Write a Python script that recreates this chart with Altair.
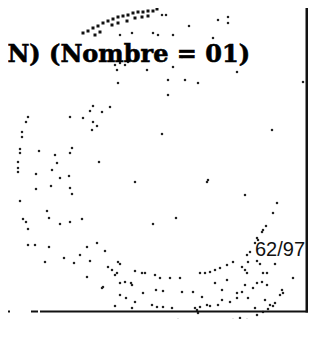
import altair as alt
import pandas as pd

# dot positions (page pixel coordinates)
arc_x = [83, 88, 93, 98, 103, 108, 113, 118, 123, 128, 133, 138, 143, 148, 153, 157,
         95, 100, 112, 118, 127, 135, 142, 148]
arc_y = [33, 31, 28, 26, 23, 21, 19, 17, 16, 15, 13, 12, 12, 11, 11, 9,
         35, 32, 25, 23, 21, 18, 17, 16]

dot_x = [162, 166, 218, 228, 228, 189, 120, 132, 153, 158, 173, 213, 182, 115, 120, 125, 128, 117,
         147, 173, 237, 168, 185, 198, 118, 168, 303, 93, 90, 102, 110, 28, 70, 83,
         26, 93, 97, 92, 22, 22, 162, 272, 20, 20, 39, 55, 70, 72, 18, 99, 57, 18, 18, 52,
         36, 69, 60, 135, 207, 208, 36, 51, 70, 72, 245, 20, 277, 47, 273, 23, 26, 49, 82,
         60, 70, 153, 176, 28, 266, 263, 262, 257,
         28, 35, 49, 87, 97, 105, 45, 64, 74, 80, 90, 118, 120, 108, 112, 87, 115, 117, 135,
         142, 145, 155, 160, 170, 180, 120, 125, 131, 132, 102, 103, 156, 163, 182, 193, 143,
         120, 126, 202, 135, 115, 132, 152, 157, 163, 172, 195, 200, 207, 210, 218, 222, 230,
         237, 248, 255, 265, 270, 275, 280, 283, 282, 200, 205, 210, 215, 220, 227, 233, 242,
         245, 247, 248, 257, 260, 263, 267, 275, 293, 215, 227, 222, 237, 242, 245, 257, 262,
         267, 253, 247, 250, 255, 258,
         123, 137, 147, 152, 160, 167, 173, 178, 190, 200, 207, 217, 223, 230, 233, 240, 247,
         257, 263, 268, 273, 143, 153, 160, 167, 180, 187, 197, 213, 223, 197, 198]
dot_y = [15, 15, 20, 17, 23, 26, 35, 33, 33, 35, 35, 38, 57, 65, 63, 65, 62, 70,
         70, 67, 72, 80, 80, 83, 83, 95, 82, 106, 111, 112, 107, 117, 117, 118,
         122, 122, 126, 130, 132, 137, 134, 130, 149, 153, 151, 155, 153, 148, 162, 162, 163, 168, 172, 170,
         174, 176, 178, 182, 182, 180, 189, 186, 188, 194, 195, 201, 203, 211, 213, 219, 222, 218, 219,
         224, 222, 224, 218, 229, 226, 230, 232, 238,
         245, 245, 247, 247, 243, 251, 262, 258, 263, 255, 261, 262, 264, 267, 270, 277, 275, 273, 271,
         273, 273, 275, 278, 278, 278, 283, 282, 283, 285, 288, 287, 290, 291, 292, 292, 293,
         295, 298, 297, 302, 306, 308, 305, 307, 307, 308, 308, 307, 305, 306, 305, 300, 302,
         298, 298, 308, 300, 305, 303, 295, 293, 290, 273, 273, 272, 270, 268, 265, 262, 267,
         270, 273, 262, 261, 264, 273, 273, 264, 278, 283, 280, 290, 293, 292, 285, 283, 282,
         285, 288, 255, 252, 243, 240,
         322, 326, 328, 328, 330, 330, 330, 320, 328, 328, 330, 327, 325, 322, 320, 318, 320,
         315, 312, 309, 306, 334, 335, 335, 335, 336, 336, 335, 332, 330, 310, 313]

# frame lines as thin rectangles (page pixel coordinates)
line_x = [0, 31, 40, 305.5]
line_x2 = [10, 38, 308, 308]
line_y = [310.5, 310.5, 310.5, 0]
line_y2 = [312.5, 312.5, 312.5, 312.5]

title_text = ["ON) (Nombre = 01)"]
page_text = ["62/97"]

W, H = 303, 311
xs = alt.Scale(domain=[8, 8 + W], nice=False, zero=False)
ys = alt.Scale(domain=[8, 8 + H], reverse=True, nice=False, zero=False)
noax = None

arc_df = pd.DataFrame({"x": arc_x, "y": arc_y})
dot_df = pd.DataFrame({"x": dot_x, "y": dot_y})
line_df = pd.DataFrame({"x": line_x, "x2": line_x2, "y": line_y, "y2": line_y2})

arc = alt.Chart(arc_df).mark_square(size=9, color="#111111", opacity=1, clip=True).encode(
    x=alt.X("x:Q", scale=xs, axis=noax), y=alt.Y("y:Q", scale=ys, axis=noax))
dots = alt.Chart(dot_df).mark_square(size=5, color="#222222", opacity=1, clip=True).encode(
    x=alt.X("x:Q", scale=xs, axis=noax), y=alt.Y("y:Q", scale=ys, axis=noax))
lines = alt.Chart(line_df).mark_rect(color="#111111", clip=True).encode(
    x=alt.X("x:Q", scale=xs, axis=noax), x2="x2:Q",
    y=alt.Y("y:Q", scale=ys, axis=noax), y2="y2:Q")

title = alt.Chart(pd.DataFrame({"t": title_text, "x": [250], "y": [62]})).mark_text(
    font="DejaVu Serif", fontWeight="bold", fontSize=24, align="right", baseline="alphabetic",
    color="#000000", stroke="#000000", strokeWidth=0.6).encode(
    x=alt.X("x:Q", scale=xs, axis=noax), y=alt.Y("y:Q", scale=ys, axis=noax), text="t:N")
page = alt.Chart(pd.DataFrame({"t": page_text, "x": [255], "y": [256]})).mark_text(
    font="Liberation Sans", fontSize=20, align="left", baseline="alphabetic",
    color="#111111").encode(
    x=alt.X("x:Q", scale=xs, axis=noax), y=alt.Y("y:Q", scale=ys, axis=noax), text="t:N")

chart = alt.layer(arc, dots, lines, title, page).properties(
    width=W, height=H, padding=0, autosize=alt.AutoSizeParams(type="none"),
    background="white"
).configure_view(stroke=None)

chart.save("out.html", embed_options={"renderer": "svg", "actions": False})
